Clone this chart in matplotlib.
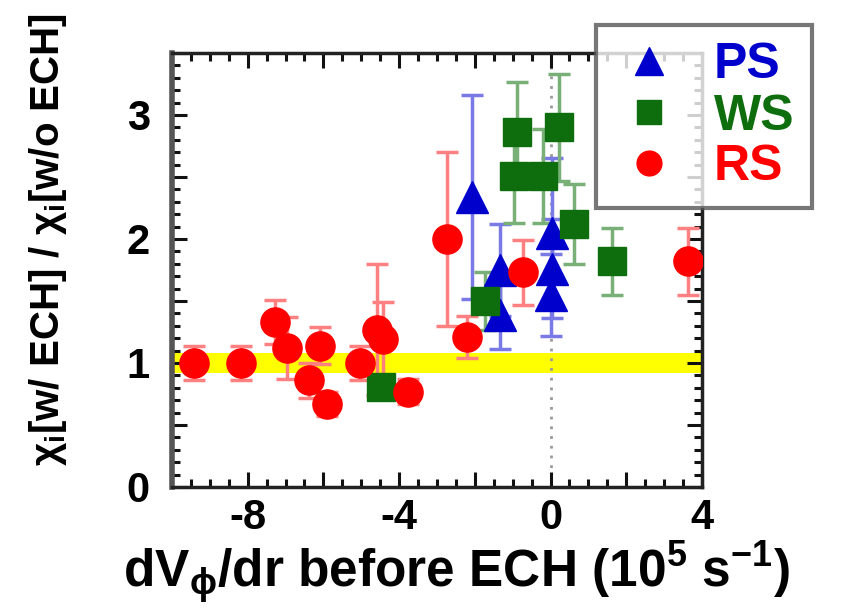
import numpy as np
import matplotlib
matplotlib.use("Agg")
import matplotlib.pyplot as plt
from matplotlib.ticker import MultipleLocator, FixedLocator, FixedFormatter

plt.rcParams["font.family"] = ["Liberation Sans", "DejaVu Sans"]
plt.rcParams["font.weight"] = "bold"
plt.rcParams["axes.unicode_minus"] = False
plt.rcParams["mathtext.fontset"] = "custom"
plt.rcParams["mathtext.rm"] = "Liberation Sans:bold"
plt.rcParams["mathtext.bf"] = "Liberation Sans:bold"
plt.rcParams["mathtext.it"] = "Liberation Sans"

# RS (red circles)
rs_x = [-9.43, -8.19, -7.29, -6.95, -6.37, -6.10, -5.90, -5.03, -4.58, -4.43, -3.76, -2.73, -2.21, -0.72, 3.63]
rs_y = [1.00, 1.00, 1.33, 1.12, 0.86, 1.14, 0.67, 1.00, 1.27, 1.19, 0.77, 2.00, 1.21, 1.73, 1.82]
rs_err = [0.14, 0.14, 0.18, 0.25, 0.14, 0.15, 0.10, 0.14, 0.53, 0.30, 0.10, 0.70, 0.17, 0.26, 0.27]

# WS (green squares)
ws_x = [-4.49, -1.73, -0.89, -0.97, -0.20, 0.23, 0.63, 1.62]
ws_y = [0.81, 1.50, 2.86, 2.51, 2.51, 2.90, 2.12, 1.82]
ws_err = [0.08, 0.23, 0.41, 0.38, 0.38, 0.43, 0.32, 0.27]

# PS (blue triangles)
ps_x = [-2.07, -1.33, -1.33, 0.05, 0.05, 0.02]
ps_y = [2.34, 1.75, 1.39, 2.05, 1.76, 1.55]
ps_err = [0.82, 0.37, 0.28, 0.60, 0.40, 0.33]

x_ticks = [-10, -8, -6, -4, -2, 0, 2, 4]
x_ticklabels = ["", "-8", "", "-4", "", "0", "", "4"]
y_ticks = [0, 0.5, 1, 1.5, 2, 2.5, 3, 3.5]
y_ticklabels = ["0", "", "1", "", "2", "", "3", ""]

band_lo, band_hi = 0.92, 1.08

series = [
    ("PS", ps_x, ps_y, ps_err, "^", "#0000cc", "#7a7ae6", 23),
    ("WS", ws_x, ws_y, ws_err, "s", "#0e6e0e", "#78b078", 20),
    ("RS", rs_x, rs_y, rs_err, "o", "#ff0000", "#ff8080", 21),
]

fig = plt.figure(figsize=(8.68, 6.09), dpi=100)
ax = fig.add_axes([172 / 868, 1 - 487 / 609, 530 / 868, 434 / 609])

ax.axhspan(band_lo, band_hi, color="#ffff00", zorder=1, lw=0)
ax.axvline(0, color="#999999", ls=(0, (1, 2.5)), lw=2, zorder=1.5)

handles = []
for i, (name, x, y, err, mk, col, ecol, ms) in enumerate(series):
    ax.errorbar(x, y, yerr=err, fmt="none", ecolor=ecol, elinewidth=2.5,
                capsize=8, capthick=2.5, zorder=2)
    h, = ax.plot(x, y, ls="none", marker=mk, ms=ms, color=col, mec=col,
                 zorder=3 + i, label=name)
    handles.append(h)

ax.set_xlim(-10, 4)
ax.set_ylim(0, 3.5)
ax.xaxis.set_major_locator(FixedLocator(x_ticks))
ax.xaxis.set_major_formatter(FixedFormatter(x_ticklabels))
ax.xaxis.set_minor_locator(MultipleLocator(0.5))
ax.yaxis.set_major_locator(FixedLocator(y_ticks))
ax.yaxis.set_major_formatter(FixedFormatter(y_ticklabels))
ax.yaxis.set_minor_locator(MultipleLocator(0.1))

ax.tick_params(which="both", direction="in", top=True, right=True, width=2.2, color="#111111")
ax.tick_params(which="major", length=11, labelsize=30)
ax.tick_params(which="minor", length=6)
ax.tick_params(axis="x", pad=8)
ax.tick_params(axis="y", pad=16)
for sp in ax.spines.values():
    sp.set_linewidth(2.5)
    sp.set_color("#222222")
ax.spines["left"].set_color("#555555")
ax.spines["left"].set_linewidth(4)

fig.text(456 / 868, 1 - 573 / 609, r"dV$_\phi$/dr before ECH (10$^5$ s$^{-1}$)",
         ha="center", va="center", fontsize=37, fontweight="bold")
fig.text(48 / 868, 1 - 240 / 609, r"$\chi_i$[w/ ECH] / $\chi_i$[w/o ECH]",
         ha="center", va="center", rotation=90, fontsize=29, fontweight="bold")

leg = fig.legend(handles=handles, loc="upper left", bbox_to_anchor=(596 / 868, 1 - 25 / 609),
                 borderaxespad=0, fontsize=36, frameon=True, fancybox=False,
                 handlelength=1.4, handletextpad=0.6, borderpad=0.35,
                 labelspacing=0.1, markerscale=0.85)
leg.get_frame().set_edgecolor("#555555")
leg.get_frame().set_linewidth(3)
for t, (_, _, _, _, _, col, _, _) in zip(leg.get_texts(), series):
    t.set_color(col)
    t.set_fontweight("bold")

fig.savefig("out.png", dpi=100)
